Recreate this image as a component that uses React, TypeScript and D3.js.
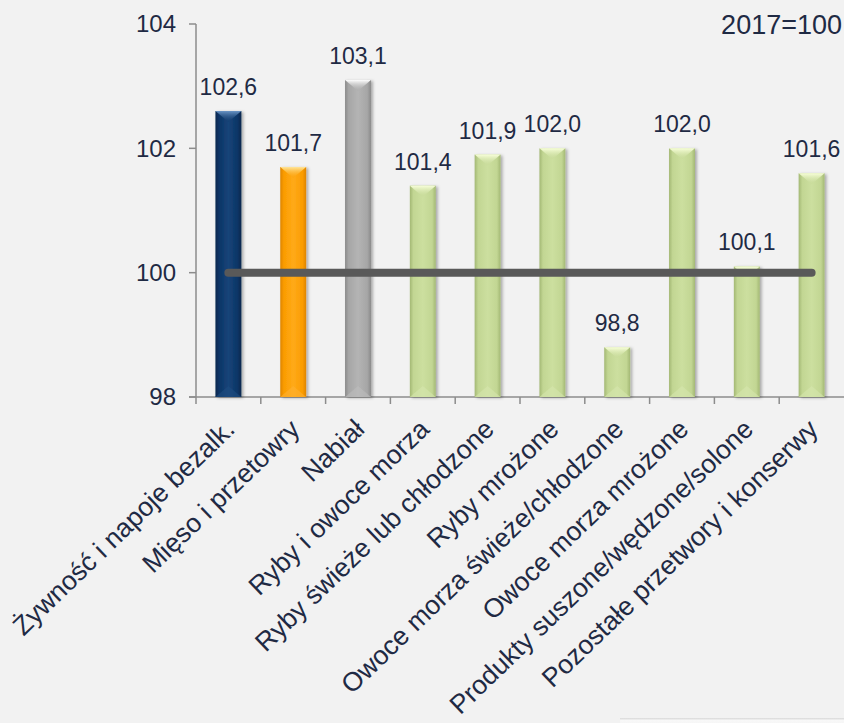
import React from "react";
import * as d3 from "d3";

const categories = [
  "Żywność i napoje bezalk.",
  "Mięso i przetowry",
  "Nabiał",
  "Ryby i owoce morza",
  "Ryby świeże lub chłodzone",
  "Ryby mrożone",
  "Owoce morza świeże/chłodzone",
  "Owoce morza mrożone",
  "Produkty suszone/wędzone/solone",
  "Pozostałe przetwory i konserwy",
];
const values = [102.6, 101.7, 103.1, 101.4, 101.9, 102.0, 98.8, 102.0, 100.1, 101.6];
const colorKeys = ["navy", "orange", "gray", "green", "green", "green", "green", "green", "green", "green"];
const yTicks = [98, 100, 102, 104];
const baseValue = 100;
const baseLabel = "2017=100";

const W = 844;
const H = 723;
const TEXT = "#1F2A44";
const FONT = "Liberation Sans, Arial, sans-serif";

const palette: Record<string, { edge: string; base: string; light: string; bevel: string; bottom: string }> = {
  navy: { edge: "#06254C", base: "#0B3566", light: "#174479", bevel: "#6A95C6", bottom: "#1E4C80" },
  orange: { edge: "#DE8500", base: "#FB9C00", light: "#FFAA18", bevel: "#FFE69A", bottom: "#FFB030" },
  gray: { edge: "#8A8A8A", base: "#A6A6A6", light: "#B4B4B4", bevel: "#FFFFFF", bottom: "#BDBDBD" },
  green: { edge: "#A3B874", base: "#C2D693", light: "#CCDF9F", bevel: "#F8FFDA", bottom: "#D6E6AE" },
};

export default function App() {
  const x = d3
    .scaleBand<string>()
    .domain(categories)
    .range([196, 844])
    .paddingInner(0.6)
    .paddingOuter(0.3);
  const step = x.step();
  const y = d3.scaleLinear().domain([98, 104]).range([397, 24]);
  const bw = x.bandwidth();
  const fmt = (v: number) => v.toFixed(1).replace(".", ",");
  const firstC = (x(categories[0]) ?? 0) + bw / 2;
  const lastC = (x(categories[categories.length - 1]) ?? 0) + bw / 2;

  return (
    <svg width={W} height={H} style={{ position: "absolute", left: 0, top: 0 }} fontFamily={FONT}>
      <defs>
        {Object.entries(palette).map(([k, c]) => (
          <React.Fragment key={k}>
            <linearGradient id={`g-${k}`} x1="0" x2="1" y1="0" y2="0">
              <stop offset="0%" stopColor={c.edge} />
              <stop offset="14%" stopColor={c.base} />
              <stop offset="50%" stopColor={c.light} />
              <stop offset="86%" stopColor={c.base} />
              <stop offset="100%" stopColor={c.edge} />
            </linearGradient>
            <linearGradient id={`t-${k}`} x1="0" x2="0" y1="0" y2="1">
              <stop offset="0%" stopColor={c.bevel} stopOpacity={1} />
              <stop offset="100%" stopColor={c.base} stopOpacity={0.3} />
            </linearGradient>
          </React.Fragment>
        ))}
        <filter id="shadow" x="-30%" y="-10%" width="160%" height="120%">
          <feDropShadow dx="2" dy="1" stdDeviation="1.5" floodColor="#000" floodOpacity="0.3" />
        </filter>
        <linearGradient id="corner" x1="0" x2="0" y1="0" y2="1">
          <stop offset="0%" stopColor="#D8D8D8" />
          <stop offset="40%" stopColor="#F8F8F8" />
          <stop offset="100%" stopColor="#F6F6F6" />
        </linearGradient>
      </defs>
      <rect x={0} y={0} width={W} height={H} fill="#F2F2F2" />
      <rect x={620} y={718} width={W - 620} height={6} fill="url(#corner)" />

      {/* axes */}
      <g stroke="#8C8C8C" strokeWidth={1.5} fill="none">
        <line x1={196} x2={196} y1={y(104)} y2={y(98)} />
        <line x1={189} x2={844} y1={y(98)} y2={y(98)} />
        {yTicks.map((t) => (
          <line key={t} x1={189} x2={196} y1={y(t)} y2={y(t)} />
        ))}
        {d3.range(categories.length).map((i) => (
          <line key={i} x1={196 + i * step} x2={196 + i * step} y1={y(98)} y2={y(98) + 7} />
        ))}
      </g>
      <g fill={TEXT} fontSize={24} textAnchor="end">
        {yTicks.map((t) => (
          <text key={t} x={176} y={y(t)} dy="0.35em">
            {t}
          </text>
        ))}
      </g>

      {/* bars */}
      {categories.map((c, i) => {
        const k = colorKeys[i];
        const p = palette[k];
        const x0 = x(c) ?? 0;
        const top = y(values[i]);
        const bot = y(98);
        const h = bot - top;
        const bev = Math.min(11, h / 2);
        return (
          <g key={c}>
            <rect x={x0} y={top} width={bw} height={h} fill={`url(#g-${k})`} filter="url(#shadow)" />
            <polygon
              points={`${x0},${top} ${x0 + bw},${top} ${x0 + bw / 2},${top + bev}`}
              fill={`url(#t-${k})`}
            />
            <polygon
              points={`${x0},${bot} ${x0 + bw},${bot} ${x0 + bw / 2},${bot - bev}`}
              fill={p.bottom}
              opacity={0.6}
            />
          </g>
        );
      })}

      {/* base line */}
      <line
        x1={firstC}
        x2={lastC}
        y1={y(baseValue)}
        y2={y(baseValue)}
        stroke="#595959"
        strokeWidth={8}
        strokeLinecap="round"
      />

      {/* value labels */}
      <g fill={TEXT} fontSize={23} textAnchor="middle">
        {categories.map((c, i) => (
          <text key={c} x={(x(c) ?? 0) + bw / 2} y={y(values[i]) - 16}>
            {fmt(values[i])}
          </text>
        ))}
      </g>

      {/* category labels */}
      <g fill={TEXT} fontSize={26.5} textAnchor="end">
        {categories.map((c) => {
          const cx = (x(c) ?? 0) + bw / 2 + 8;
          const cy = 431;
          return (
            <text key={c} x={cx} y={cy} transform={`rotate(-44 ${cx} ${cy})`}>
              {c}
            </text>
          );
        })}
      </g>

      <text x={842} y={34} fill={TEXT} fontSize={27} textAnchor="end">
        {baseLabel}
      </text>
    </svg>
  );
}
